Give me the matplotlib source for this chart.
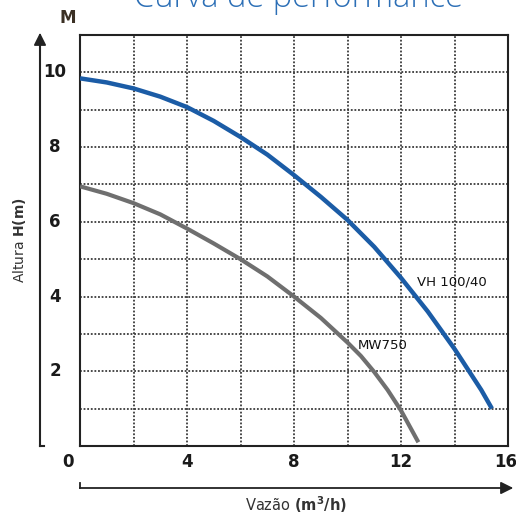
import matplotlib
matplotlib.use("Agg")
import matplotlib.pyplot as plt
from matplotlib.patches import FancyArrowPatch
from matplotlib.lines import Line2D

# ---- data ----
vh_q = [0, 1, 2, 3, 4, 5, 6, 7, 8, 9, 10, 11, 12, 13, 14, 15, 15.4]
vh_h = [9.84, 9.73, 9.57, 9.35, 9.07, 8.7, 8.27, 7.8, 7.25, 6.67, 6.05, 5.33, 4.5, 3.6, 2.6, 1.5, 1.0]
mw_q = [0, 1, 2, 3, 4, 5, 6, 7, 8, 9, 10, 10.5, 11, 11.5, 12, 12.65]
mw_h = [6.95, 6.75, 6.5, 6.2, 5.82, 5.42, 5.0, 4.54, 4.0, 3.43, 2.77, 2.41, 1.98, 1.5, 0.95, 0.1]
series_names = ["VH 100/40", "MW750"]
x_ticks = [0, 4, 8, 12, 16]
y_ticks = [2, 4, 6, 8, 10]
title = "Curva de performance"

W, H = 516, 515
fig = plt.figure(figsize=(W / 100, H / 100), dpi=100)
ax = fig.add_axes([80 / W, (H - 446) / H, 428 / W, 411 / H])
ax.set_xlim(0, 16)
ax.set_ylim(0, 11)

# grid
grid_kw = dict(color="#3a3a3a", linewidth=1.3, linestyle=(0, (1, 1)), zorder=1)
for gx in range(2, 16, 2):
    ax.axvline(gx, **grid_kw)
for gy in range(1, 11):
    ax.axhline(gy, **grid_kw)

ax.plot(vh_q, vh_h, color="#1b5ca6", linewidth=3.2, solid_capstyle="butt", zorder=3)
ax.plot(mw_q, mw_h, color="#6f6f6f", linewidth=3.0, solid_capstyle="butt", zorder=3)

ax.text(12.6, 4.3, series_names[0], fontsize=9.5, color="#111111", zorder=4)
ax.text(10.4, 2.6, series_names[1], fontsize=9.5, color="#111111", zorder=4)

for s in ax.spines.values():
    s.set_linewidth(1.5)
    s.set_color("#222222")
ax.set_xticks([])
ax.set_yticks([])

# tick labels
tick_kw = dict(fontsize=12, fontweight="bold", color="#1a1a1a")
for xv in x_ticks:
    xpos = xv if xv != 0 else -0.45
    if xv == 16:
        xpos = 15.9
    ax.text(xpos, -0.42, str(xv), ha="center", va="center", **tick_kw)
for yv in y_ticks:
    ax.text(-0.93, yv, str(yv), ha="center", va="center", **tick_kw)

# outer axis arrows
fig.add_artist(Line2D([40 / W, 40 / W], [(H - 446) / H, (H - 40) / H], color="#222222", lw=1.5))
fig.add_artist(Line2D([40 / W, 44 / W], [(H - 446) / H, (H - 446) / H], color="#222222", lw=1.5))
fig.add_artist(FancyArrowPatch((40 / W, (H - 45) / H), (40 / W, (H - 30) / H),
                               transform=fig.transFigure, arrowstyle="-|>,head_length=5,head_width=2.5",
                               color="#222222", lw=1.2, mutation_scale=1.5))
fig.add_artist(Line2D([80 / W, 505 / W], [(H - 488) / H, (H - 488) / H], color="#222222", lw=1.3))
fig.add_artist(Line2D([80 / W, 80 / W], [(H - 488) / H, (H - 483) / H], color="#222222", lw=1.3))
fig.add_artist(FancyArrowPatch((500 / W, (H - 488) / H), (516 / W, (H - 488) / H),
                               transform=fig.transFigure, arrowstyle="-|>,head_length=5,head_width=2.5",
                               color="#222222", lw=1.2, mutation_scale=1.5))

# labels
fig.text(20 / W, (H - 240) / H, r"Altura $\mathbf{H(m)}$", rotation=90, ha="center", va="center",
         fontsize=10, color="#333333")
fig.text(296 / W, (H - 505) / H, r"Vazão $\mathbf{(m^3/h)}$", ha="center", va="center",
         fontsize=10.5, color="#333333")
fig.text(68 / W, (H - 18) / H, "M", ha="center", va="center", fontsize=12, fontweight="bold",
         color="#3b3024")
fig.text(298 / W, (H - 7) / H, title, ha="center", va="baseline", fontsize=23.5,
         color="#2c6fb6", fontweight="light", family="Open Sans")

fig.savefig("out.png", dpi=100)
